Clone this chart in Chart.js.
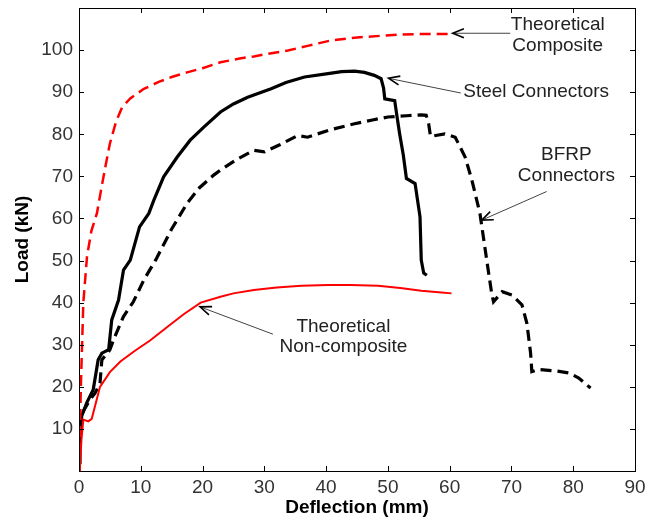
<!DOCTYPE html>
<html><head><meta charset="utf-8">
<script src="https://cdn.jsdelivr.net/npm/chart.js@4/dist/chart.umd.min.js"></script>
<style>html,body{margin:0;padding:0;background:#fff}#wrap{width:646px;height:521px}</style>
</head><body><div id="wrap"><canvas id="c" width="646" height="521"></canvas></div>
<script>
// Theoretical Composite (red dashed)
const compX = [0, 0.3, 0.7, 1.3, 2.0, 2.9, 3.6, 4.3, 5.0, 6.0, 7.0, 8.3, 10.5, 13, 15, 17.5, 20, 22.9, 26, 28.3, 30, 33.8, 37, 40.8, 45, 48.9, 52, 55, 58.7, 60.3];
const compY = [0, 20, 40, 51, 57, 61.2, 67, 72.5, 77.8, 83, 86.5, 88.5, 90.8, 92.5, 93.6, 94.7, 95.7, 97.1, 98.0, 98.5, 99.0, 99.9, 101, 102.3, 103, 103.4, 103.7, 103.8, 103.8, 103.8];
// Theoretical Non-composite (red solid)
const nonX = [0, 0.16, 0.4, 0.7, 1.5, 2.06, 3.4, 5, 6.7, 9, 11.5, 14.8, 17, 19.7, 22.9, 25, 28.3, 32, 36, 40.3, 44, 48.4, 52, 55.4, 58.7, 60.3];
const nonY = [0, 1.5, 7.5, 12.2, 11.8, 12.4, 20, 23.5, 26, 28.5, 31, 34.8, 37.3, 40, 41.4, 42.2, 43, 43.6, 44, 44.2, 44.2, 44, 43.5, 42.8, 42.4, 42.2];
// Steel Connectors (black solid)
const steelX = [0, 0.16, 0.43, 1.25, 2.3, 3.1, 3.7, 4.8, 5.3, 6.4, 7.2, 8.3, 9.8, 11.3, 12.1, 13.7, 15.9, 18, 20.2, 22.9, 25, 27.3, 31.1, 33.5, 36.5, 40.3, 42.5, 44.6, 46.2, 47.8, 48.9, 49.3, 49.5, 51.1, 51.5, 51.9, 52.5, 53, 54.4, 55.2, 55.4, 55.8, 56.3];
const steelY = [2, 6.7, 13, 16.2, 19.3, 26.4, 28, 28.8, 35.9, 40.6, 47.7, 50.1, 58, 61.2, 64.3, 69.9, 74.6, 78.6, 81.7, 85.3, 87.2, 88.8, 90.8, 92.3, 93.6, 94.4, 94.9, 95, 94.7, 94.0, 93.2, 91, 88.4, 88, 84, 80.1, 75, 69.5, 68.3, 60.4, 50.1, 47, 46.5];
// BFRP Connectors (black dashed)
const bfrpX = [0, 0.16, 0.6, 1.8, 2.6, 3.4, 3.7, 4.8, 5.0, 5.6, 7.2, 8.8, 10.5, 12.4, 15, 17.5, 19.5, 21.8, 22.9, 25.5, 28.3, 30, 32.5, 35.4, 37, 40.5, 44.6, 47.5, 50, 53, 55.4, 56.2, 56.6, 56.9, 59.2, 60.9, 62.5, 63.6, 64.9, 66, 66.8, 67.1, 68.5, 70.1, 71.7, 72.5, 73.1, 73.3, 74.4, 77.1, 79.3, 80.9, 82.8];
const bfrpY = [2, 13, 14, 17, 18.5, 20.9, 26.4, 28.4, 28.8, 31.2, 36.7, 40.2, 45.4, 50.1, 57.5, 63.6, 67.3, 70.3, 71.5, 74, 76.2, 75.8, 77.5, 79.7, 79.3, 81, 82.5, 83.4, 84.1, 84.4, 84.6, 84.5, 82.5, 79.5, 80.1, 79.3, 74.6, 69.1, 61.2, 50.1, 42.2, 40.2, 42.6, 41.8, 39.5, 35.1, 28, 23.6, 24.1, 23.8, 23.3, 22.1, 19.7];

const xTicks = [0, 10, 20, 30, 40, 50, 60, 70, 80, 90];
const yTicks = [10, 20, 30, 40, 50, 60, 70, 80, 90, 100];

const pts = (xs, ys) => xs.map((x, i) => ({x, y: ys[i]}));

// annotation texts and arrows (data coordinates)
const notes = [
  {lines: ['Theoretical', 'Composite'], x: 77.5, y: [106.0, 101.0], from: [69.8, 104.0], to: [60.5, 104.0]},
  {lines: ['Steel Connectors'], x: 74.0, y: [90.2], from: [61.8, 89.8], to: [50.1, 93.3]},
  {lines: ['BFRP', 'Connectors'], x: 78.9, y: [75.1, 70.1], from: [75.7, 66.4], to: [65.2, 59.6]},
  {lines: ['Theoretical', 'Non-composite'], x: 42.8, y: [34.3, 29.4], from: [31.4, 32.5], to: [19.6, 39.0]}
];

const framePlugin = {
  id: 'frame',
  afterDatasetsDraw(chart) {
    const {ctx, chartArea: a, scales: {x, y}} = chart;
    ctx.save();
    ctx.strokeStyle = '#000';
    ctx.lineWidth = 1;
    ctx.beginPath();
    xTicks.forEach(v => {
      const px = Math.round(x.getPixelForValue(v)) + 0.5;
      if (v > 0 && v < 90) {
        ctx.moveTo(px, a.bottom); ctx.lineTo(px, a.bottom - 5);
        ctx.moveTo(px, a.top); ctx.lineTo(px, a.top + 5);
      }
    });
    yTicks.forEach(v => {
      const py = Math.round(y.getPixelForValue(v)) + 0.5;
      ctx.moveTo(a.left, py); ctx.lineTo(a.left + 5, py);
      ctx.moveTo(a.right, py); ctx.lineTo(a.right - 5, py);
    });
    ctx.stroke();
    ctx.strokeRect(Math.round(a.left) + 0.5, Math.round(a.top) + 0.5, Math.round(a.right - a.left), Math.round(a.bottom - a.top));
    // annotations
    ctx.fillStyle = '#222';
    ctx.font = '19px "Liberation Sans", Arial, sans-serif';
    ctx.textAlign = 'center';
    ctx.textBaseline = 'middle';
    notes.forEach(n => {
      n.lines.forEach((t, i) => ctx.fillText(t, x.getPixelForValue(n.x), y.getPixelForValue(n.y[i])));
      const x1 = x.getPixelForValue(n.from[0]), y1 = y.getPixelForValue(n.from[1]);
      const x2 = x.getPixelForValue(n.to[0]), y2 = y.getPixelForValue(n.to[1]);
      const ang = Math.atan2(y2 - y1, x2 - x1);
      ctx.strokeStyle = '#444';
      ctx.lineWidth = 1;
      ctx.beginPath();
      ctx.moveTo(x1, y1); ctx.lineTo(x2, y2);
      ctx.stroke();
      const L = 12, w = 0.38;
      ctx.strokeStyle = '#000';
      ctx.lineWidth = 1.6;
      ctx.beginPath();
      ctx.moveTo(x2 - L * Math.cos(ang - w), y2 - L * Math.sin(ang - w));
      ctx.lineTo(x2, y2);
      ctx.lineTo(x2 - L * Math.cos(ang + w), y2 - L * Math.sin(ang + w));
      ctx.stroke();
    });
    ctx.restore();
  }
};

const zeroPad = s => { s.paddingTop = 0; s.paddingBottom = 0; s.paddingLeft = 0; s.paddingRight = 0; };

new Chart(document.getElementById('c'), {
  type: 'scatter',
  data: {
    datasets: [
      {data: pts(compX, compY), borderColor: '#ff0000', borderWidth: 2.5, borderDash: [11, 6]},
      {data: pts(nonX, nonY), borderColor: '#ff0000', borderWidth: 2},
      {data: pts(bfrpX, bfrpY), borderColor: '#000', borderWidth: 3.2, borderDash: [11, 6]},
      {data: pts(steelX, steelY), borderColor: '#000', borderWidth: 3.2}
    ].map(d => Object.assign(d, {showLine: true, pointRadius: 0, tension: 0, fill: false}))
  },
  options: {
    responsive: false,
    animation: false,
    layout: {padding: {top: 8, right: 11, left: 0, bottom: 0}},
    plugins: {legend: {display: false}, tooltip: {enabled: false}},
    scales: {
      x: {
        type: 'linear', min: 0, max: 90,
        afterBuildTicks: s => { s.ticks = xTicks.map(v => ({value: v})); },
        afterFit: s => { s.height = 50; zeroPad(s); },
        grid: {display: false, drawTicks: false},
        border: {display: false},
        ticks: {color: '#333', padding: 5, font: {family: '"Liberation Sans", Arial, sans-serif', size: 19}, maxRotation: 0},
        title: {display: true, text: 'Deflection (mm)', color: '#000', font: {family: '"Liberation Sans", Arial, sans-serif', size: 19, weight: 'bold'}, padding: {top: 0, bottom: 2}}
      },
      y: {
        type: 'linear', min: 0, max: 110,
        afterBuildTicks: s => { s.ticks = yTicks.map(v => ({value: v})); },
        afterFit: s => { s.width = 79; zeroPad(s); },
        grid: {display: false, drawTicks: false},
        border: {display: false},
        ticks: {color: '#333', padding: 6, font: {family: '"Liberation Sans", Arial, sans-serif', size: 19}},
        title: {display: true, text: 'Load (kN)', color: '#000', font: {family: '"Liberation Sans", Arial, sans-serif', size: 19, weight: 'bold'}, padding: {top: 11, bottom: 0}}
      }
    }
  },
  plugins: [framePlugin]
});
</script></body></html>
